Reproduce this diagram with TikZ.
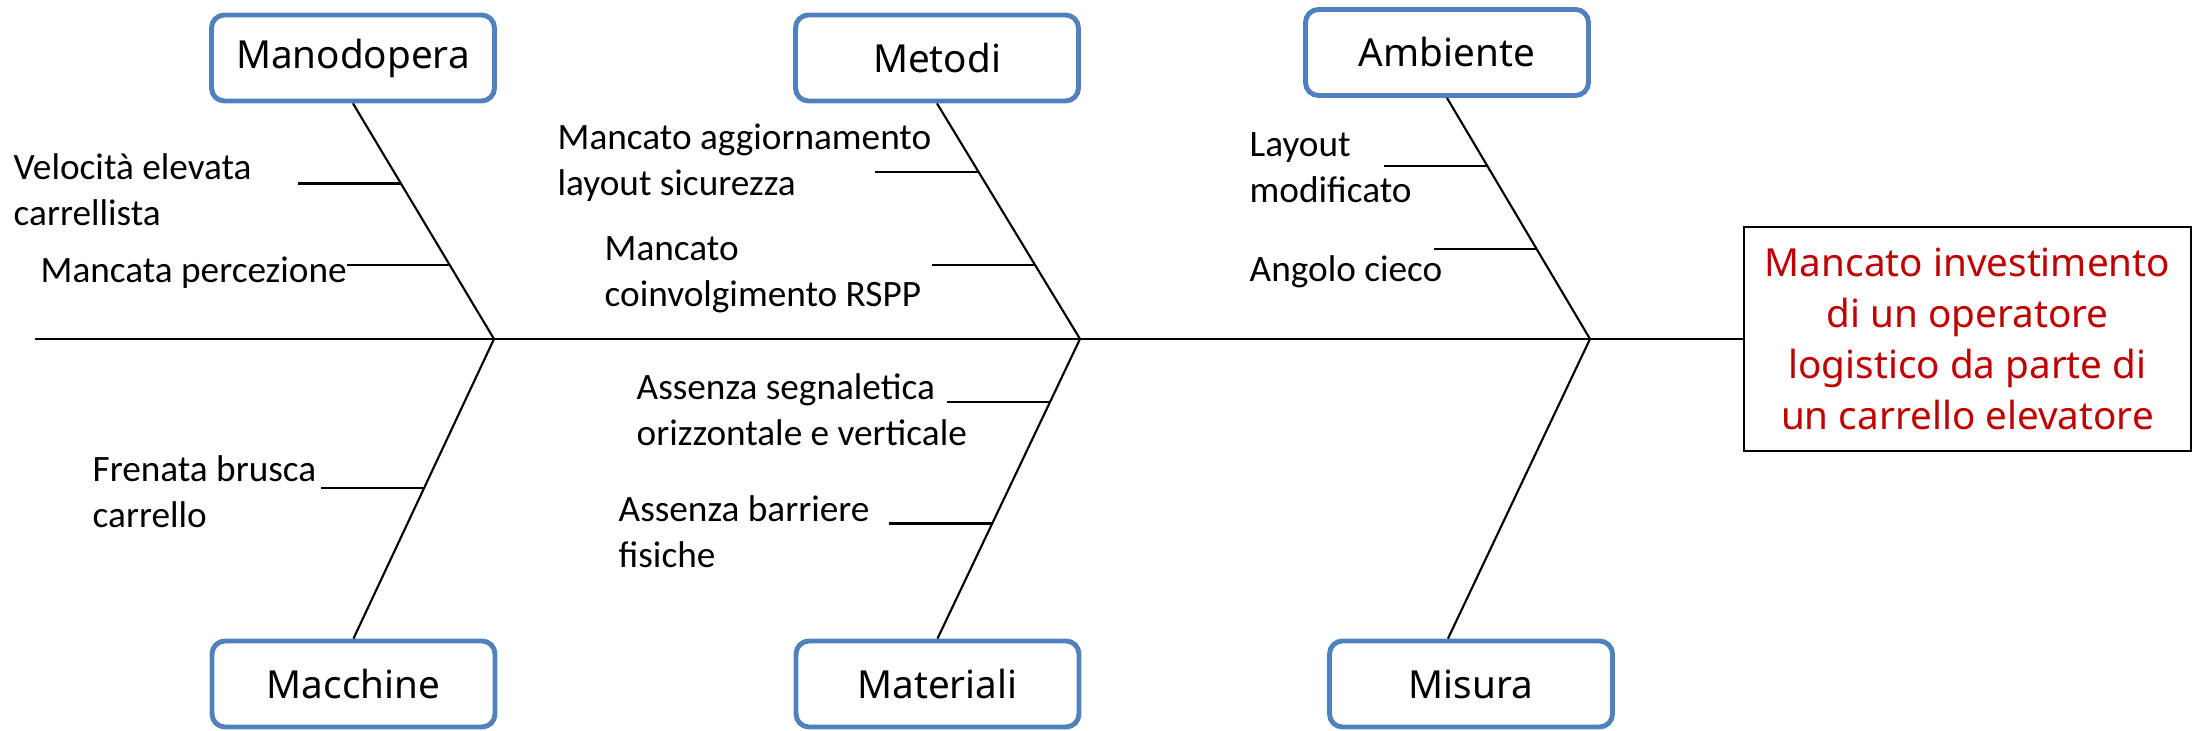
\documentclass[tikz,border=0pt]{standalone}
\usepackage{fontspec}
\setmainfont{Carlito}
\newfontfamily\boxfont{Noto Sans}
\usetikzlibrary{calc}
\definecolor{boxblue}{RGB}{79,129,189}
\definecolor{effred}{RGB}{192,0,0}

\begin{document}
\begin{tikzpicture}[
    catbox/.style={draw=boxblue, line width=1.4pt, rounded corners=0.13cm, fill=white,
        minimum width=2.83cm, minimum height=0.86cm, inner sep=0pt,
        font=\boxfont\fontsize{11}{13}\selectfont},
    effbox/.style={draw, line width=0.8pt, minimum width=4.47cm, minimum height=2.24cm,
        align=center, inner sep=0pt, text=effred,
        font=\boxfont\fontsize{11}{14.5}\selectfont},
    cause/.style={anchor=west, align=left, inner sep=0pt, font=\fontsize{10.6}{13.1}\selectfont},
    bone/.style={line width=0.6pt}
]
    \useasboundingbox (0,0) rectangle (21.93,7.31);

    % Category boxes
    \node[catbox] (mano) at (3.53,6.73) {Manodopera};
    \node[catbox] (meto) at (9.37,6.73) {Metodi};
    \node[catbox] (ambi) at (14.47,6.785) {Ambiente};
    \node[catbox] (macc) at (3.535,0.47) {Macchine};
    \node[catbox] (mate) at (9.375,0.47) {Materiali};
    \node[catbox] (misu) at (14.71,0.47) {Misura};

    % Effect
    \node[effbox] (eff) at (19.675,3.92) {Mancato investimento\\di un operatore\\logistico da parte di\\un carrello elevatore};

    % Spine
    \coordinate (tail) at (0.35,3.92);
    \coordinate (j1) at (4.94,3.92);
    \coordinate (j2) at (10.80,3.92);
    \coordinate (j3) at (15.90,3.92);
    \draw[bone] (tail) -- (eff.west);

    % Main bones
    \coordinate (misutop) at ($(misu.north)+(-0.23,0)$);
    \draw[bone] (mano.south) -- (j1) -- (macc.north);
    \draw[bone] (meto.south) -- (j2) -- (mate.north);
    \draw[bone] (ambi.south) -- (j3) -- (misutop);

    % Twigs
    \coordinate (mano1) at ($(mano.south)!0.340!(j1)$);
    \coordinate (mano2) at ($(mano.south)!0.685!(j1)$);
    \coordinate (meto1) at ($(meto.south)!0.290!(j2)$);
    \coordinate (meto2) at ($(meto.south)!0.685!(j2)$);
    \coordinate (ambi1) at ($(ambi.south)!0.281!(j3)$);
    \coordinate (ambi2) at ($(ambi.south)!0.626!(j3)$);
    \coordinate (macc1) at ($(j1)!0.497!(macc.north)$);
    \coordinate (mate1) at ($(j2)!0.209!(mate.north)$);
    \coordinate (mate2) at ($(j2)!0.616!(mate.north)$);
    \foreach \t in {mano1,mano2,meto1,meto2,ambi1,ambi2,macc1,mate1,mate2}
        \draw[bone] (\t) -- ++(-1.03,0);

    % Causes
    \node[cause] (c1) at (0.13,5.41) {Velocità elevata\\carrellista};
    \node[cause] (c2) at (0.40,4.58) {Mancata percezione};
    \node[cause] (c3) at (5.57,5.685) {Mancato aggiornamento\\layout sicurezza};
    \node[cause] (c4) at (6.04,4.565) {Mancato\\coinvolgimento RSPP};
    \node[cause] (c5) at (12.49,5.635) {Layout\\modificato};
    \node[cause] (c6) at (12.49,4.59) {Angolo cieco};
    \node[cause] (c7) at (0.92,2.39) {Frenata brusca\\carrello};
    \node[cause] (c8) at (6.36,3.21) {Assenza segnaletica\\orizzontale e verticale};
    \node[cause] (c9) at (6.18,1.995) {Assenza barriere\\fisiche};
\end{tikzpicture}
\end{document}
